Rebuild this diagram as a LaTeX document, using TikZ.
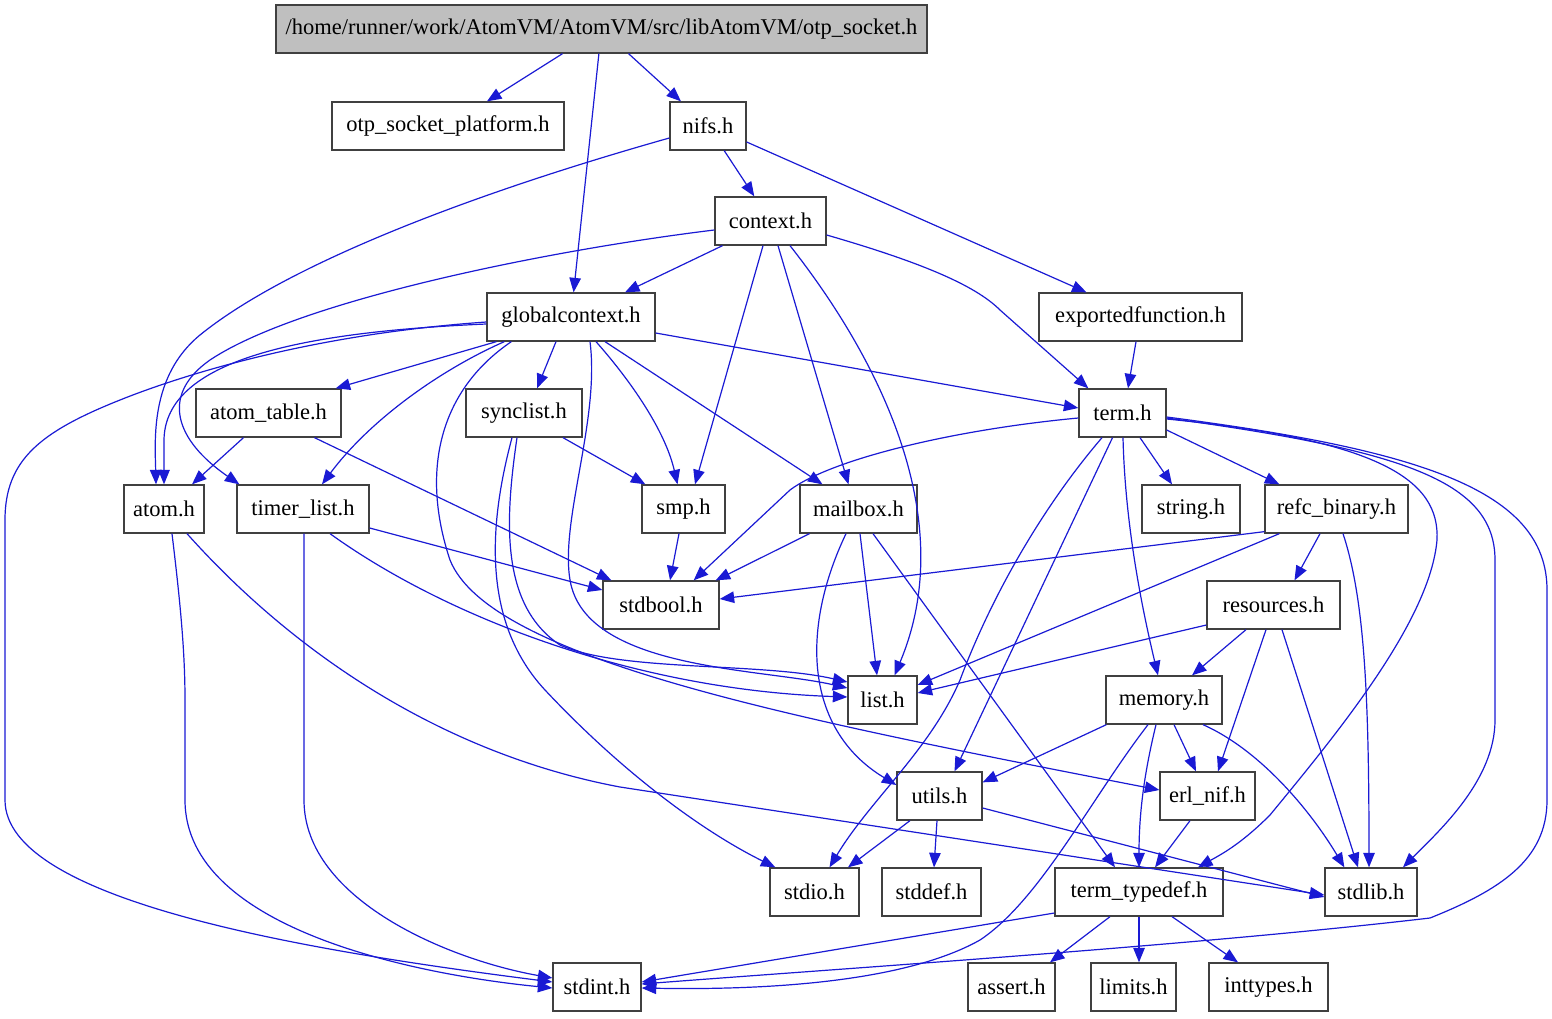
\documentclass[tikz,border=0pt]{standalone}
\usepackage{fontspec}
\setmainfont{Liberation Serif}
\usetikzlibrary{arrows.meta,calc}
\definecolor{edgeblue}{RGB}{26,26,212}
\definecolor{boxgray}{RGB}{64,64,64}
\definecolor{topfill}{RGB}{191,191,191}
\begin{document}
\begin{tikzpicture}[x=1pt,y=-1pt,
  box/.style={draw=boxgray, line width=1.3pt, minimum height=48pt, inner sep=0pt, anchor=center, fill=white, font=\fontsize{22.5}{27}\selectfont},
  e/.style={draw=edgeblue, line width=1.2pt, -{Triangle[length=14.5pt,width=11.5pt]}, edgeblue}]
\useasboundingbox[fill=white] (0,0) rectangle (1552,1019);

% nodes
\node[box, fill=topfill, minimum width=651pt] (top) at (601.5,29) {/home/runner/work/AtomVM/AtomVM/src/libAtomVM/otp\_socket.h};
\node[box, minimum width=232pt] (osp) at (448,126) {otp\_socket\_platform.h};
\node[box, minimum width=76pt] (nifs) at (708,126) {nifs.h};
\node[box, minimum width=111pt] (context) at (770.5,221) {context.h};
\node[box, minimum width=168pt] (gc) at (571,317) {globalcontext.h};
\node[box, minimum width=203pt] (expf) at (1140.5,317) {exportedfunction.h};
\node[box, minimum width=145pt] (atomtable) at (268.5,413) {atom\_table.h};
\node[box, minimum width=116pt] (synclist) at (524,413) {synclist.h};
\node[box, minimum width=87pt] (term) at (1122.5,413) {term.h};
\node[box, minimum width=80pt] (atom) at (164,509) {atom.h};
\node[box, minimum width=132pt] (timer) at (303,509) {timer\_list.h};
\node[box, minimum width=83pt] (smp) at (683.5,509) {smp.h};
\node[box, minimum width=117pt] (mailbox) at (858.5,509) {mailbox.h};
\node[box, minimum width=98pt] (string) at (1191,509) {string.h};
\node[box, minimum width=143pt] (refc) at (1336.5,509) {refc\_binary.h};
\node[box, minimum width=116pt] (stdbool) at (661,605) {stdbool.h};
\node[box, minimum width=133pt] (resources) at (1273.5,605) {resources.h};
\node[box, minimum width=69pt] (list) at (882.5,700) {list.h};
\node[box, minimum width=116pt] (memory) at (1164,700) {memory.h};
\node[box, minimum width=85pt] (utils) at (939.5,796) {utils.h};
\node[box, minimum width=95pt] (erlnif) at (1207.5,796) {erl\_nif.h};
\node[box, minimum width=89pt] (stdio) at (814.5,892) {stdio.h};
\node[box, minimum width=99pt] (stddef) at (931.5,892) {stddef.h};
\node[box, minimum width=168pt] (termtd) at (1139,892) {term\_typedef.h};
\node[box, minimum width=92pt] (stdlib) at (1371,892) {stdlib.h};
\node[box, minimum width=88pt] (stdint) at (597,987) {stdint.h};
\node[box, minimum width=87pt] (assert) at (1011.5,987) {assert.h};
\node[box, minimum width=85pt] (limits) at (1133.5,987) {limits.h};
\node[box, minimum width=119pt] (inttypes) at (1268.5,987) {inttypes.h};

% edges
\draw[e] (top) -- (osp);
\draw[e] (top) -- (gc);
\draw[e] (top) -- (nifs);
\draw[e] ($(nifs.west)+(0,12)$) .. controls (450,200) and (280,270) .. (200,335) .. controls (150,376) and (155,440) .. ($(atom.north)+(-8,0)$);
\draw[e] (nifs) -- (context);
\draw[e] ($(nifs.east)+(0,16)$) -- ($(expf.north)+(-54,0)$);
\draw[e] ($(context.south)+(-48,0)$) -- ($(gc.north)+(54,0)$);
\draw[e] ($(context.west)+(0,9)$) .. controls (550,250) and (300,300) .. (210,360) .. controls (160,395) and (175,440) .. ($(timer.north west)+(3,0)$);
\draw[e] ($(context.south)+(-7.5,0)$) -- ($(smp.north)+(11.5,0)$);
\draw[e] ($(context.south)+(7.5,0)$) -- ($(mailbox.north)+(-10,0)$);
\draw[e] ($(context.south)+(19.5,0)$) .. controls (880,360) and (960,520) .. ($(list.north)+(12,0)$);
\draw[e] ($(context.east)+(0,14)$) .. controls (920,262) and (975,285) .. (1000,310) -- ($(term.north west)+(10,0)$);

\draw[e] ($(gc.west)+(0,5)$) .. controls (300,335) and (170,380) .. (120,400) .. controls (40,432) and (5,460) .. (5,520) -- (5,800) .. controls (5,900) and (300,950) .. ($(stdint.west)+(0,-5)$);
\draw[e] ($(gc.west)+(0,7)$) .. controls (300,332) and (165,360) .. (164,440) -- (atom.north);
\draw[e] ($(gc.south west)+(10,0)$) -- ($(atomtable.north east)+(-6,0)$);
\draw[e] ($(gc.south west)+(18,0)$) .. controls (440,370) and (370,420) .. ($(timer.north)+(19,0)$);
\draw[e] ($(gc.south west)+(25,0)$) .. controls (440,390) and (420,470) .. (450,560) .. controls (490,660) and (800,720) .. ($(erlnif.west)+(0,-6)$);
\draw[e] ($(gc.south)+(19,0)$) .. controls (600,420) and (560,520) .. (570,580) .. controls (585,670) and (760,668) .. ($(list.west)+(0,-12)$);
\draw[e] ($(gc.south)+(-15,0)$) -- ($(synclist.north)+(13,0)$);
\draw[e] ($(gc.south)+(25,0)$) .. controls (630,380) and (665,430) .. ($(smp.north)+(-6,0)$);
\draw[e] ($(gc.south)+(34,0)$) -- ($(mailbox.north)+(-36,0)$);
\draw[e] ($(gc.east)+(0,16)$) -- ($(term.west)+(0,-5)$);

\draw[e] ($(atomtable.south)+(-25,0)$) -- ($(atom.north)+(28,0)$);
\draw[e] ($(atomtable.south)+(46,0)$) -- ($(stdbool.north west)+(9,0)$);
\draw[e] ($(synclist.south)+(39,0)$) -- ($(smp.north west)+(4,0)$);
\draw[e] ($(synclist.south)+(-7,0)$) .. controls (505,520) and (500,605) .. (560,645) .. controls (620,672) and (760,662) .. ($(list.west)+(0,-18)$);
\draw[e] ($(synclist.south)+(-12,0)$) .. controls (490,520) and (480,620) .. (545,690) .. controls (620,770) and (700,830) .. ($(stdio.north west)+(6,0)$);

\draw[e] ($(atom.south)+(8,0)$) .. controls (180,600) and (185,650) .. (185,700) -- (185,800) .. controls (185,930) and (420,975) .. ($(stdint.west)+(0,1)$);
\draw[e] ($(atom.south)+(23,0)$) .. controls (300,660) and (450,755) .. (620,787) -- ($(stdlib.west)+(0,3)$);
\draw[e] ($(timer.east)+(0,19)$) -- ($(stdbool.west)+(0,-15)$);
\draw[e] ($(timer.south)+(27,0)$) .. controls (450,620) and (640,690) .. ($(list.west)+(0,-3)$);
\draw[e] ($(timer.south)+(1,0)$) -- (304,800) .. controls (304,900) and (450,960) .. ($(stdint.west)+(0,-9)$);

\draw[e] ($(smp.south)+(-4.5,0)$) -- ($(stdbool.north)+(9,0)$);
\draw[e] ($(mailbox.south)+(-49,0)$) -- ($(stdbool.north east)+(-4,0)$);
\draw[e] ($(mailbox.south)+(1.5,0)$) -- ($(list.north)+(-5.5,0)$);
\draw[e] ($(mailbox.south)+(-12.5,0)$) .. controls (800,630) and (805,730) .. ($(utils.west)+(0,-11)$);
\draw[e] ($(mailbox.south)+(14.5,0)$) -- ($(termtd.north)+(-24,0)$);

\draw[e] ($(term.west)+(0,5)$) .. controls (950,430) and (830,460) .. (790,490) -- ($(stdbool.north east)+(-26,0)$);
\draw[e] ($(term.south)+(-20.5,0)$) .. controls (1040,510) and (990,600) .. (960,680) .. controls (930,750) and (870,800) .. ($(stdio.north)+(15,0)$);
\draw[e] ($(term.south)+(-10,0)$) -- ($(utils.north)+(15,0)$);
\draw[e] ($(term.south)+(0.5,0)$) .. controls (1125,520) and (1140,600) .. ($(memory.north)+(-6,0)$);
\draw[e] ($(term.south)+(17.5,0)$) -- ($(string.north)+(-19,0)$);
\draw[e] ($(term.east)+(0,17)$) -- ($(refc.north west)+(15,0)$);
\draw[e] ($(term.east)+(0,6)$) .. controls (1380,440) and (1440,480) .. (1437,540) .. controls (1430,620) and (1340,730) .. (1270,815) .. controls (1240,845) and (1220,855) .. ($(termtd.north)+(59,0)$);
\draw[e] ($(term.east)+(0,5)$) .. controls (1400,450) and (1495,480) .. (1495,560) -- (1495,720) .. controls (1495,780) and (1440,830) .. ($(stdlib.north)+(32,0)$);
\draw[e] ($(term.east)+(0,4)$) .. controls (1420,450) and (1547,490) .. (1547,590) -- (1547,800) .. controls (1547,860) and (1500,890) .. (1430,918) .. controls (1200,945) and (850,968) .. ($(stdint.east)+(0,-3)$);
\draw[e] ($(expf.south)+(-4.5,0)$) -- ($(term.north)+(5.5,0)$);

\draw[e] ($(refc.south west)+(0,-2)$) -- ($(stdbool.east)+(0,-6)$);
\draw[e] ($(refc.south west)+(15,0)$) -- ($(list.east)+(0,-15)$);
\draw[e] ($(refc.south)+(-16.5,0)$) -- ($(resources.north)+(21,0)$);
\draw[e] ($(refc.south)+(6.5,0)$) .. controls (1365,600) and (1369,700) .. ($(stdlib.north)+(-2,0)$);
\draw[e] ($(resources.west)+(0,20)$) -- ($(list.east)+(0,-7)$);
\draw[e] ($(resources.south)+(-27.5,0)$) -- ($(memory.north)+(28,0)$);
\draw[e] ($(resources.south)+(-7.5,0)$) -- ($(erlnif.north)+(10.5,0)$);
\draw[e] ($(resources.south)+(8.5,0)$) -- ($(stdlib.north)+(-13,0)$);

\draw[e] ($(memory.south west)+(1,0)$) -- ($(utils.north east)+(0,11)$);
\draw[e] ($(memory.south)+(10,0)$) -- ($(erlnif.north)+(-11.5,0)$);
\draw[e] ($(memory.south)+(-8,0)$) .. controls (1145,770) and (1139,810) .. (termtd.north);
\draw[e] ($(memory.south)+(39,0)$) .. controls (1260,750) and (1310,810) .. ($(stdlib.north west)+(20,0)$);
\draw[e] ($(memory.south)+(-16,0)$) .. controls (1090,800) and (1040,900) .. (980,940) .. controls (900,985) and (750,990) .. ($(stdint.east)+(0,1)$);

\draw[e] ($(utils.south)+(-29.5,0)$) -- ($(stdio.north)+(33.5,0)$);
\draw[e] ($(utils.south)+(-2.5,0)$) -- ($(stddef.north)+(2.5,0)$);
\draw[e] ($(utils.east)+(0,12)$) -- ($(stdlib.west)+(0,5)$);
\draw[e] ($(erlnif.south)+(-17.5,0)$) -- ($(termtd.north)+(16,0)$);

\draw[e] ($(termtd.west)+(0,21)$) -- ($(stdint.east)+(0,-5)$);
\draw[e] ($(termtd.south)+(-29,0)$) -- ($(assert.north)+(38.5,0)$);
\draw[e] (termtd.south) -- ($(limits.north)+(5.5,0)$);
\draw[e] ($(termtd.south)+(33,0)$) -- ($(inttypes.north)+(-30.5,0)$);
\end{tikzpicture}
\end{document}
